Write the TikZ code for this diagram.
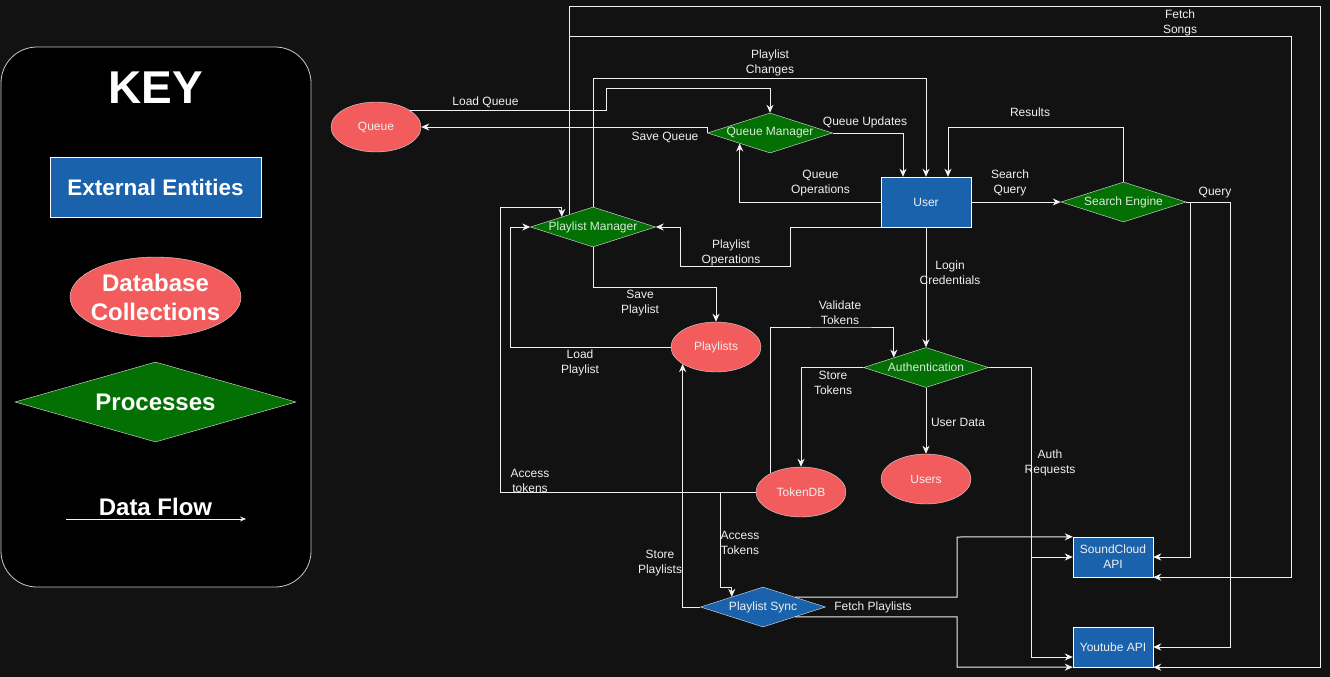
\documentclass[tikz,border=0pt]{standalone}
\usepackage{fontspec}
\setmainfont{Liberation Sans}
\usetikzlibrary{arrows.meta,shapes.geometric}

\definecolor{bgc}{HTML}{121212}
\definecolor{entblue}{HTML}{1A62AC}
\definecolor{dbred}{HTML}{F25C5C}
\definecolor{procgreen}{HTML}{037003}
\definecolor{linec}{HTML}{F0F0F0}
\definecolor{proctext}{HTML}{D8EBD8}
\definecolor{keyedge}{HTML}{C8C8C8}

\begin{document}
\begin{tikzpicture}[x=1pt,y=-1pt,
  every node/.style={font=\fontsize{12}{15}\selectfont, text=linec},
  entity/.style={rectangle, draw=white, fill=entblue, inner sep=0pt,
    minimum width=90pt, minimum height=50pt, align=center},
  store/.style={ellipse, draw=white!85!black, fill=dbred, inner sep=0pt,
    minimum width=90pt, minimum height=50pt},
  proc/.style={diamond, draw=white!90!black, fill=procgreen, inner sep=0pt,
    minimum width=125pt, minimum height=40pt, text=proctext},
  flow/.style={draw=linec, line width=1pt,
    -{Stealth[length=8pt,width=7pt,inset=2.5pt]}},
  lbl/.style={align=center, inner sep=0pt},
  keytxt/.style={text=white, font=\fontsize{24}{29}\selectfont\bfseries, align=center}
]
\path[fill=bgc] (0,0) rectangle (1330,677);
\useasboundingbox (0,0) rectangle (1330,677);

% ---------- legend ----------
\draw[keyedge, fill=black, line width=0.8pt, rounded corners=36pt] (1,47) rectangle (311,587);
\node[keytxt, font=\fontsize{46}{50}\selectfont\bfseries] (keyttl) at (155.5,88) {KEY};
\node[rectangle, draw=white, fill=entblue, minimum width=211pt, minimum height=60pt,
  inner sep=0pt, keytxt, font=\fontsize{22.5}{27}\selectfont\bfseries] (keyent) at (155.5,187) {External Entities};
\node[ellipse, draw=white!85!black, fill=dbred, minimum width=171pt, minimum height=80pt,
  inner sep=0pt, keytxt] (keydb) at (155.5,297) {\makebox[0pt]{Database}\\\makebox[0pt]{Collections}};
\node[diamond, draw=white!90!black, fill=procgreen, minimum width=281pt, minimum height=80pt,
  inner sep=0pt, keytxt] (keyproc) at (155.5,402) {\makebox[0pt]{Processes}};
\node[keytxt] (keyflow) at (155.5,507) {Data Flow};
\coordinate (kfa) at (66,519);
\coordinate (kfb) at (246,519);
\draw[draw=linec, line width=0.8pt, -{Stealth[length=6pt,width=5pt,inset=2pt]}] (kfa) -- (kfb);

% ---------- entities, stores, processes ----------
\node[store] (q) at (376,127) {Queue};
\node[proc] (qm) at (770,133) {\makebox[0pt]{Queue Manager}};
\node[entity] (user) at (926,202) {User};
\node[proc] (se) at (1123.5,202) {\makebox[0pt]{Search Engine}};
\node[proc] (pm) at (593,227) {\makebox[0pt]{Playlist Manager}};
\node[store] (pl) at (716,347) {Playlists};
\node[proc] (auth) at (926,367.5) {\makebox[0pt]{Authentication}};
\node[store] (tdb) at (801,492) {TokenDB};
\node[store] (users) at (926,479) {Users};
\node[proc, fill=entblue, text=linec] (ps) at (763,607) {\makebox[0pt]{Playlist Sync}};
\node[entity, minimum width=80pt, minimum height=40pt] (sc) at (1113,557) {SoundCloud\\API};
\node[entity, minimum width=80pt, minimum height=40pt] (yt) at (1113,647) {Youtube API};

% ---------- data flows ----------
% song fetching from the playlist manager
\draw[flow] (pm.151.2) |- (1320,7) |- (yt.south east);
\draw[flow] (pm.151.2) |- (1291,37) |- (sc.south east);
% queue
\draw[flow] (q.27.3) -| (606,88) -| (qm.north);
\draw[flow] (qm.west) |- (q.east);
\draw[flow] (qm.east) -| ([xshift=-23pt]user.north);
\draw[flow] (user.west) -| (qm.199.1);
% playlists
\draw[flow] (pm.north) -- (593,78) -| (user.north);
\draw[flow] (user.south west) -| (790,266) -| (680,227) -- (pm.east);
\draw[flow] (pm.south) -- (593,287) -| (pl.north);
\draw[flow] (pl.west) -| (510,227) -- (pm.west);
\draw[flow] (tdb.west) -| (500,207) -| (pm.162);
\draw[flow] (tdb.west) -| (720,587) -| (ps.162);
\draw[flow] (ps.west) -| (pl.207.25);
\draw[flow] (ps.17) -| (957,537) -- (sc.north west);
\draw[flow] (ps.-17) -| (957,667) -- (yt.south west);
% search
\draw[flow] (se.north) -- (1123.5,127) -| ([xshift=22pt]user.north);
\draw[flow] (user.east) -- (se.west);
\draw[flow] (se.east) -| (1230,647) -- (yt.east);
\draw[flow] (se.east) -| (1190,557) -- (sc.east);
% authentication
\draw[flow] (user.south) -- (auth.north);
\draw[flow] (tdb.148.2) |- (850,327) -| (auth.163);
\draw[flow] (auth.west) -| (tdb.north);
\draw[flow] (auth.south) -- (users.north);
\draw[flow] (auth.east) -| (1031,657) -- ([yshift=-10pt]yt.west);
\draw[flow] (auth.east) -| (1031,557) -- (sc.west);

% ---------- flow labels ----------
\node[lbl] (t01) at (1180,23) {Fetch\\Songs};
\node[lbl] (t02) at (770,63) {Playlist\\Changes};
\node[lbl] (t03) at (485.5,102.5) {Load Queue};
\node[lbl] (t04) at (665,137.5) {Save Queue};
\node[lbl] (t05) at (865,122.5) {Queue Updates};
\node[lbl] (t06) at (820.5,183) {Queue\\Operations};
\node[lbl] (t07) at (1030,112.5) {Results};
\node[lbl] (t08) at (1010,183) {Search\\Query};
\node[lbl] (t09) at (1215,192.5) {Query};
\node[lbl] (t10) at (731,253) {Playlist\\Operations};
\node[lbl] (t11) at (950,273) {Login\\Credentials};
\node[lbl] (t12) at (640,303) {Save\\Playlist};
\node[lbl] (t13) at (840,313) {Validate\\Tokens};
\node[lbl] (t14) at (580,363) {Load\\Playlist};
\node[lbl] (t15) at (833,383) {Store\\Tokens};
\node[lbl] (t16) at (958,422.5) {User Data};
\node[lbl] (t17) at (1050,463) {Auth\\Requests};
\node[lbl] (t18) at (530,481) {Access\\tokens};
\node[lbl] (t19) at (740,543) {Access\\Tokens};
\node[lbl] (t20) at (660,563) {Store\\Playlists};
\node[lbl] (t21) at (873,607.5) {Fetch Playlists};
\end{tikzpicture}
\end{document}
